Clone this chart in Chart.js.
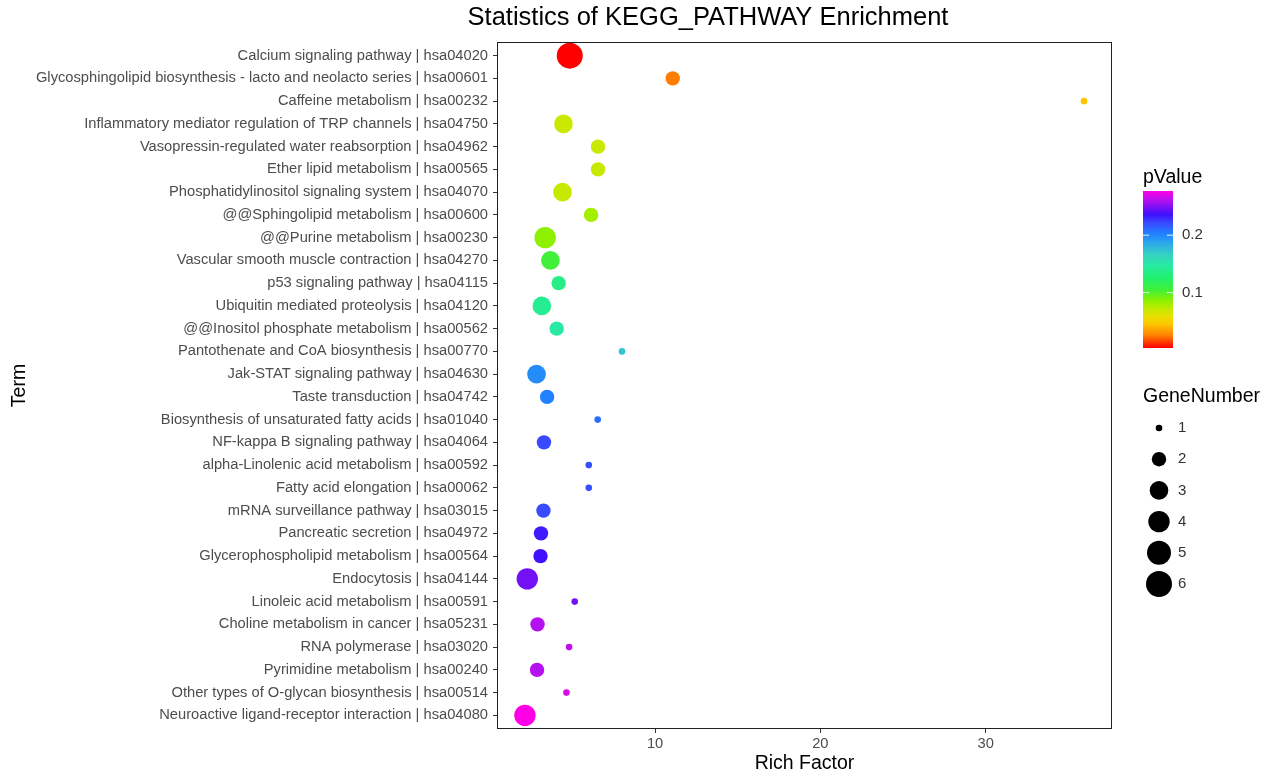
<!DOCTYPE html>
<html>
<head>
<meta charset="utf-8">
<script src="https://cdn.jsdelivr.net/npm/chart.js@4/dist/chart.umd.min.js"></script>
<style>
  html, body { margin: 0; padding: 0; background: #fff; }
  #grafico { display: block; }
</style>
</head>
<body>
<canvas id="grafico" width="1269" height="775"></canvas>
<script>
// ================================
// Dados
// ================================
const termos = [
  "Calcium signaling pathway | hsa04020",
  "Glycosphingolipid biosynthesis - lacto and neolacto series | hsa00601",
  "Caffeine metabolism | hsa00232",
  "Inflammatory mediator regulation of TRP channels | hsa04750",
  "Vasopressin-regulated water reabsorption | hsa04962",
  "Ether lipid metabolism | hsa00565",
  "Phosphatidylinositol signaling system | hsa04070",
  "@@Sphingolipid metabolism | hsa00600",
  "@@Purine metabolism | hsa00230",
  "Vascular smooth muscle contraction | hsa04270",
  "p53 signaling pathway | hsa04115",
  "Ubiquitin mediated proteolysis | hsa04120",
  "@@Inositol phosphate metabolism | hsa00562",
  "Pantothenate and CoA biosynthesis | hsa00770",
  "Jak-STAT signaling pathway | hsa04630",
  "Taste transduction | hsa04742",
  "Biosynthesis of unsaturated fatty acids | hsa01040",
  "NF-kappa B signaling pathway | hsa04064",
  "alpha-Linolenic acid metabolism | hsa00592",
  "Fatty acid elongation | hsa00062",
  "mRNA surveillance pathway | hsa03015",
  "Pancreatic secretion | hsa04972",
  "Glycerophospholipid metabolism | hsa00564",
  "Endocytosis | hsa04144",
  "Linoleic acid metabolism | hsa00591",
  "Choline metabolism in cancer | hsa05231",
  "RNA polymerase | hsa03020",
  "Pyrimidine metabolism | hsa00240",
  "Other types of O-glycan biosynthesis | hsa00514",
  "Neuroactive ligand-receptor interaction | hsa04080",
]

const fatorRiqueza = [
  4.84, 11.07, 35.95, 4.46, 6.55, 6.55, 4.40, 6.13, 3.35, 3.67,
  4.17, 3.15, 4.05, 8.00, 2.83, 3.47, 6.53, 3.28, 5.99, 5.99,
  3.25, 3.10, 3.07, 2.27, 5.14, 2.89, 4.80, 2.86, 4.64, 2.13,
]

const numeroGenes = [
  6, 2, 1, 3, 2, 2, 3, 2, 4, 3,
  2, 3, 2, 1, 3, 2, 1, 2, 1, 1,
  2, 2, 2, 4, 1, 2, 1, 2, 1, 4,
]

const valorP = [
  0.0035, 0.025, 0.045, 0.069, 0.069, 0.070, 0.070, 0.080, 0.086, 0.105,
  0.135, 0.140, 0.148, 0.173, 0.198, 0.203, 0.209, 0.222, 0.220, 0.220,
  0.221, 0.233, 0.236, 0.247, 0.247, 0.261, 0.263, 0.261, 0.269, 0.277,
]

const ticksX = [10, 20, 30]
const ticksP = [0.1, 0.2]
const quebrasGenes = [1, 2, 3, 4, 5, 6]

// ================================
// Estilo
// ================================
const FONTE = '"Liberation Sans", Arial, Helvetica, sans-serif'
const corTexto = "#4d4d4d"

// escala de cor do pValue (fração 0 = menor p, 1 = maior p)
const paradasCor = [
  [0.0, "#ff0000"],
  [0.08, "#ff8000"],
  [0.15, "#ffc400"],
  [0.2, "#e8e000"],
  [0.25, "#c2ea00"],
  [0.3, "#90f000"],
  [0.37, "#40f038"],
  [0.45, "#20f070"],
  [0.52, "#28eca0"],
  [0.6, "#34d0c4"],
  [0.68, "#2aa0f0"],
  [0.73, "#2080ff"],
  [0.8, "#3a48ff"],
  [0.85, "#4010ff"],
  [0.9, "#8010f4"],
  [0.95, "#c010ee"],
  [1.0, "#ff00e6"],
]

// raio (px) por número de genes
const raios = [3.3, 7.2, 9.3, 10.7, 12, 13]

const pMin = Math.min(...valorP)
const pMax = Math.max(...valorP)

function hexParaRgb(h) {
  return [1, 3, 5].map((i) => parseInt(h.slice(i, i + 2), 16))
}

function corDoP(p) {
  const f = Math.max(0, Math.min(1, (p - pMin) / (pMax - pMin)))
  for (let i = 1; i < paradasCor.length; i++) {
    const [f1, c1] = paradasCor[i]
    const [f0, c0] = paradasCor[i - 1]
    if (f <= f1) {
      const t = (f - f0) / (f1 - f0)
      const a = hexParaRgb(c0)
      const b = hexParaRgb(c1)
      const rgb = a.map((v, k) => Math.round(v + (b[k] - v) * t))
      return `rgb(${rgb.join(",")})`
    }
  }
  return paradasCor[paradasCor.length - 1][1]
}

// expansão de 5% no eixo x (como no ggplot)
const xMinDados = Math.min(...fatorRiqueza)
const xMaxDados = Math.max(...fatorRiqueza)
const folgaX = (xMaxDados - xMinDados) * 0.05

// ================================
// Plugin: título, borda e legendas
// ================================
const pluginExtras = {
  id: "extras",
  afterDraw(chart) {
    const ctx = chart.ctx
    const area = chart.chartArea
    ctx.save()

    // borda do painel
    ctx.strokeStyle = "#222"
    ctx.lineWidth = 1
    ctx.strokeRect(area.left + 0.5, area.top + 0.5, area.right - area.left - 1, area.bottom - area.top - 1)

    // título
    ctx.fillStyle = "#000"
    ctx.font = `25.5px ${FONTE}`
    ctx.textAlign = "center"
    ctx.textBaseline = "middle"
    ctx.fillText("Statistics of KEGG_PATHWAY Enrichment", 708, 18)

    // legenda pValue
    const lx = 1143
    ctx.textAlign = "left"
    ctx.font = `19.5px ${FONTE}`
    ctx.fillText("pValue", lx, 178)

    const barTop = 191
    const barBottom = 348
    const barW = 30
    const grad = ctx.createLinearGradient(0, barBottom, 0, barTop)
    paradasCor.forEach(([f, c]) => grad.addColorStop(f, c))
    ctx.fillStyle = grad
    ctx.fillRect(lx, barTop, barW, barBottom - barTop)

    ctx.font = `15px ${FONTE}`
    ctx.fillStyle = "#333"
    ticksP.forEach((p) => {
      const y = barBottom - ((p - pMin) / (pMax - pMin)) * (barBottom - barTop)
      ctx.strokeStyle = "rgba(255,255,255,0.9)"
      ctx.beginPath()
      ctx.moveTo(lx, y)
      ctx.lineTo(lx + 6, y)
      ctx.moveTo(lx + barW - 6, y)
      ctx.lineTo(lx + barW, y)
      ctx.stroke()
      ctx.fillText(String(p), 1182, y)
    })

    // legenda GeneNumber
    ctx.fillStyle = "#000"
    ctx.font = `19.5px ${FONTE}`
    ctx.fillText("GeneNumber", lx, 397)
    ctx.font = `15px ${FONTE}`
    quebrasGenes.forEach((g, i) => {
      const y = 428 + i * 31.2
      ctx.fillStyle = "#000"
      ctx.beginPath()
      ctx.arc(1159, y, raios[g - 1], 0, Math.PI * 2)
      ctx.fill()
      ctx.fillStyle = "#333"
      ctx.fillText(String(g), 1178, y)
    })

    ctx.restore()
  },
}

// ================================
// Gráfico de bolhas
// ================================
Chart.defaults.font.family = FONTE

const pontos = fatorRiqueza.map((x, i) => ({
  x: x,
  y: i,
  r: raios[numeroGenes[i] - 1],
}))

new Chart(document.getElementById("grafico"), {
  type: "bubble",
  data: {
    datasets: [
      {
        data: pontos,
        backgroundColor: valorP.map(corDoP),
        borderWidth: 0,
        hoverBorderWidth: 0,
        clip: false,
      },
    ],
  },
  options: {
    responsive: false,
    animation: false,
    devicePixelRatio: 1,
    layout: { padding: { top: 42, right: 157, bottom: 0, left: 0 } },
    plugins: {
      legend: { display: false },
      tooltip: { enabled: false },
    },
    scales: {
      x: {
        type: "linear",
        min: xMinDados - folgaX,
        max: xMaxDados + folgaX,
        afterBuildTicks: (s) => {
          s.ticks = ticksX.map((v) => ({ value: v }))
        },
        afterFit: (s) => {
          s.height = 46
        },
        ticks: {
          color: corTexto,
          font: { size: 14.7 },
          padding: 2,
          maxRotation: 0,
        },
        grid: {
          drawOnChartArea: false,
          drawTicks: true,
          tickLength: 4,
          color: "#333",
        },
        border: { display: false },
        title: {
          display: true,
          text: "Rich Factor",
          color: "#000",
          font: { size: 19.5 },
          padding: { top: 0, bottom: 0 },
        },
      },
      y: {
        type: "linear",
        reverse: true,
        min: -0.6,
        max: termos.length - 1 + 0.6,
        afterBuildTicks: (s) => {
          s.ticks = termos.map((_, i) => ({ value: i }))
        },
        afterFit: (s) => {
          s.width = 497
        },
        ticks: {
          color: corTexto,
          font: { size: 14.7 },
          padding: 5,
          autoSkip: false,
          callback: (v) => termos[v],
        },
        grid: {
          drawOnChartArea: false,
          drawTicks: true,
          tickLength: 4,
          color: "#333",
        },
        border: { display: false },
        title: {
          display: true,
          text: "Term",
          color: "#000",
          font: { size: 19.5 },
          padding: { top: 8, bottom: 0 },
        },
      },
    },
  },
  plugins: [pluginExtras],
})
</script>
</body>
</html>
